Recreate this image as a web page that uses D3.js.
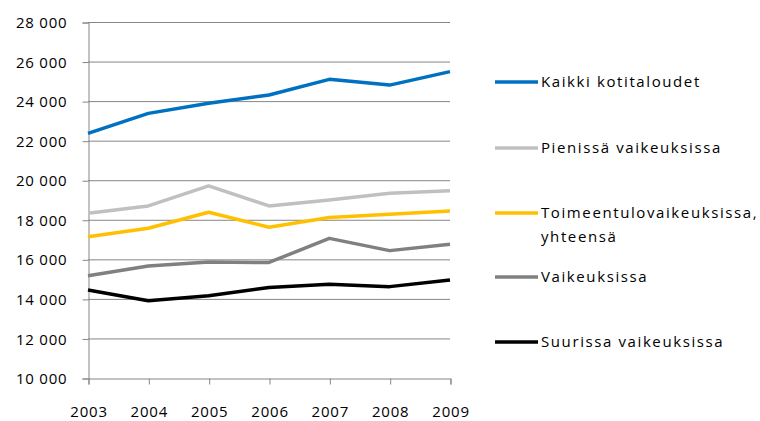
<!DOCTYPE html>
<html><head><meta charset="utf-8">
<script src="https://cdn.jsdelivr.net/npm/d3@7"></script>
<style>body{margin:0;background:#fff}svg{display:block}text{font-family:"Open Sans",sans-serif;font-size:15px;fill:#000}</style>
</head><body><svg id="c" width="760" height="421"></svg>
<script>
const years = ["2003","2004","2005","2006","2007","2008","2009"];
const yTicks = [10000,12000,14000,16000,18000,20000,22000,24000,26000,28000];
const seriesNames = ["Kaikki kotitaloudet","Pienissä vaikeuksissa","Toimeentulovaikeuksissa, yhteensä","Vaikeuksissa","Suurissa vaikeuksissa"];
const kaikki = [22370,23380,23890,24310,25100,24810,25490];
const pienissa = [18330,18700,19710,18700,19000,19340,19470];
const toimeentulo = [17140,17570,18380,17620,18120,18280,18440];
const vaikeuksissa = [15170,15660,15860,15840,17060,16440,16760];
const suurissa = [14450,13910,14160,14580,14740,14620,14960];
const colors = ["#0070C0","#C0C0C0","#FFC000","#808080","#000000"];

const svg = d3.select("#c");
const x = d3.scalePoint().domain(years).range([88,450]);
const y = d3.scaleLinear().domain([10000,28000]).range([378,22]);
const fmt = v => d3.format(",")(v).replace(",", " ");

// gridlines
svg.append("g").selectAll("line").data(yTicks.slice(1)).join("line")
  .attr("x1",88).attr("x2",450).attr("y1",d=>y(d)+0.5).attr("y2",d=>y(d)+0.5)
  .attr("stroke","#868686").attr("stroke-width",1);

const ya = svg.append("g").attr("transform","translate(88.5,0.5)")
  .call(d3.axisLeft(y).tickValues(yTicks).tickFormat(fmt).tickSize(6).tickPadding(15));
ya.select(".domain").attr("stroke","#868686");
ya.selectAll(".tick line").attr("stroke","#868686");
ya.selectAll("text").attr("font-size",15).attr("letter-spacing","0.8px").attr("font-family","Open Sans").attr("fill","#000").attr("dy","0.34em");

const xa = svg.append("g").attr("transform","translate(0.5,378.5)")
  .call(d3.axisBottom(x).tickSize(6).tickPadding(22));
xa.select(".domain").attr("stroke","#868686");
xa.selectAll(".tick line").attr("stroke","#868686");
xa.selectAll("text").attr("font-size",15).attr("letter-spacing","0.8px").attr("font-family","Open Sans").attr("fill","#000");

const all = [kaikki,pienissa,toimeentulo,vaikeuksissa,suurissa];
const line = d3.line().x((d,i)=>x(years[i])).y(d=>y(d));
svg.append("g").selectAll("path").data(all).join("path")
  .attr("d",line).attr("fill","none").attr("stroke",(d,i)=>colors[i])
  .attr("stroke-width",3.5).attr("stroke-linejoin","round");

// legend
const legY = [82,148,213,277,342];
const lg = svg.append("g").selectAll("g").data(seriesNames).join("g")
  .attr("transform",(d,i)=>`translate(495,${legY[i]})`);
lg.append("line").attr("x1",0).attr("x2",43).attr("stroke",(d,i)=>colors[i]).attr("stroke-width",3.5);
lg.each(function(d){
  const t = d3.select(this).append("text").attr("x",46).attr("dy","0.35em").attr("letter-spacing","1.6px");
  if (d.includes(",")) {
    const parts = d.split(" ");
    t.append("tspan").attr("x",46).text(parts[0]);
    t.append("tspan").attr("x",46).attr("dy","24").text(parts[1]);
  } else t.text(d);
});
</script></body></html>
